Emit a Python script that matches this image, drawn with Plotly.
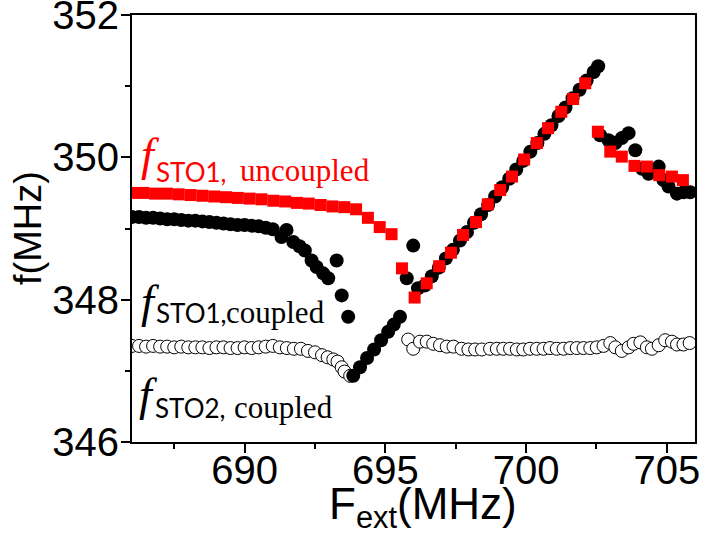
import plotly.graph_objects as go

# ---------------- data ----------------
# f_STO1, uncoupled (red squares)
unc_F = [686.0, 686.4, 686.82, 687.24, 687.66, 688.08, 688.5, 688.92, 689.34, 689.76,
         690.18, 690.6, 691.02, 691.44, 691.86, 692.28, 692.7, 693.12, 693.54, 693.96,
         694.38, 694.8, 695.22, 695.59, 696.04, 696.47, 696.91, 697.33, 697.76, 698.22,
         698.64, 699.08, 699.5, 699.93, 700.38, 700.78, 701.25, 701.67, 702.1, 702.55,
         702.99, 703.4, 703.85, 704.29, 704.73, 705.18, 705.57]
unc_f = [349.50, 349.50, 349.49, 349.49, 349.48, 349.47, 349.46, 349.45, 349.44, 349.43,
         349.42, 349.41, 349.39, 349.38, 349.36, 349.35, 349.33, 349.31, 349.30, 349.27,
         349.15, 349.02, 348.92, 348.44, 348.03, 348.23, 348.47, 348.66, 348.91, 349.09,
         349.34, 349.54, 349.73, 349.97, 350.20, 350.41, 350.64, 350.82, 351.04, 350.36,
         350.08, 350.01, 349.88, 349.87, 349.75, 349.73, 349.68]

# f_STO1, coupled (filled black circles)
c1_F = [686.0, 686.25, 686.5, 686.75, 687.0, 687.25, 687.5, 687.75, 688.0, 688.25,
        688.5, 688.75, 689.0, 689.25, 689.5, 689.75, 690.0, 690.25, 690.5, 690.75,
        691.0, 691.31, 691.49, 691.73, 691.95, 692.14, 692.38, 692.56, 692.79, 692.97,
        693.27, 693.45, 693.68, 693.86, 694.1, 694.35, 694.6, 694.85, 695.1, 695.3,
        695.52, 695.76, 695.99, 696.16, 696.4, 696.65, 696.9, 697.15, 697.4, 697.65,
        697.9, 698.15, 698.4, 698.65, 698.9, 699.15, 699.4, 699.65, 699.9, 700.15,
        700.4, 700.65, 700.9, 701.15, 701.4, 701.65, 701.9, 702.15, 702.4, 702.56,
        702.63, 702.93, 703.17, 703.4, 703.64, 703.88, 704.12, 704.35, 704.71, 704.88,
        705.06, 705.36, 705.59, 705.83]
c1_f = [349.16, 349.16, 349.15, 349.15, 349.14, 349.13, 349.13, 349.12, 349.11, 349.11,
        349.10, 349.09, 349.08, 349.07, 349.06, 349.05, 349.05, 349.04, 349.03, 349.01,
        348.99, 348.88, 348.98, 348.81, 348.75, 348.69, 348.55, 348.46, 348.37, 348.30,
        348.55, 348.06, 347.76, 346.93, 347.05, 347.18, 347.30, 347.43, 347.55, 347.65,
        347.76, 348.30, 348.76, 348.16, 348.20, 348.33, 348.45, 348.58, 348.70, 348.83,
        348.95, 349.08, 349.20, 349.33, 349.45, 349.58, 349.70, 349.83, 349.95, 350.08,
        350.20, 350.33, 350.45, 350.58, 350.70, 350.83, 350.95, 351.08, 351.20, 351.28,
        350.31, 350.24, 350.20, 350.27, 350.34, 350.10, 349.84, 349.77, 349.87, 349.68,
        349.59, 349.49, 349.51, 349.51]

# f_STO2, coupled (open circles)
c2_F = [686.0, 686.25, 686.5, 686.75, 687.0, 687.25, 687.5, 687.75, 688.0, 688.25,
        688.5, 688.75, 689.0, 689.25, 689.5, 689.75, 690.0, 690.25, 690.5, 690.75,
        691.0, 691.25, 691.5, 691.75, 692.0, 692.25, 692.5, 692.75, 692.95, 693.15,
        693.3, 693.45, 693.55, 693.75,
        695.81, 695.99, 696.23, 696.47, 696.7, 696.94, 697.18, 697.42, 697.71, 697.95,
        698.19, 698.43, 698.72, 698.96, 699.19, 699.43, 699.67, 699.9, 700.14, 700.38,
        700.62, 700.85, 701.09, 701.33, 701.57, 701.8, 702.04, 702.28, 702.51, 702.75,
        702.99, 703.17, 703.4, 703.64, 703.82, 704.06, 704.29, 704.47, 704.71, 704.94,
        705.18, 705.36, 705.59, 705.81]
c2_f = [347.35, 347.35, 347.34, 347.35, 347.34, 347.34, 347.33, 347.34, 347.33, 347.33,
        347.33, 347.32, 347.33, 347.33, 347.32, 347.32, 347.33, 347.32, 347.33, 347.34,
        347.35, 347.33, 347.32, 347.31, 347.31, 347.28, 347.26, 347.22, 347.19, 347.16,
        347.13, 347.05, 346.99, 346.93,
        347.44, 347.31, 347.41, 347.41, 347.38, 347.36, 347.34, 347.34, 347.31, 347.30,
        347.30, 347.30, 347.31, 347.31, 347.31, 347.31, 347.30, 347.30, 347.31, 347.31,
        347.31, 347.32, 347.31, 347.31, 347.32, 347.32, 347.32, 347.32, 347.33, 347.35,
        347.39, 347.33, 347.28, 347.33, 347.38, 347.40, 347.33, 347.31, 347.36, 347.43,
        347.41, 347.37, 347.37, 347.39]

x_ticks = [690, 695, 700, 705]
y_ticks = [346, 348, 350, 352]

# ---------------- figure ----------------
W, H = 703, 543
L, R, T, B = 132, 8, 15, 101
PW, PH = W - L - R, H - T - B

def px(x):
    return (x - L) / PW

def py(y):
    return (H - B - y) / PH

fig = go.Figure()
fig.add_trace(go.Scatter(x=c2_F, y=c2_f, mode="markers",
                         marker=dict(symbol="circle", size=13, color="white",
                                     line=dict(color="black", width=1))))
fig.add_trace(go.Scatter(x=c1_F, y=c1_f, mode="markers",
                         marker=dict(symbol="circle", size=14, color="black",
                                     line=dict(width=0))))
fig.add_trace(go.Scatter(x=unc_F, y=unc_f, mode="markers",
                         marker=dict(symbol="square", size=12, color="#ff0000",
                                     line=dict(width=0))))

axis_common = dict(showline=True, linecolor="black", linewidth=2, mirror=True,
                   ticks="outside", ticklen=9, tickwidth=2, tickcolor="black",
                   showgrid=False, zeroline=False, ticklabeloverflow="allow",
                   tickfont=dict(family="Liberation Sans, Arial", size=40, color="black"),
                   minor=dict(ticks="outside", ticklen=5, tickwidth=2, tickcolor="black",
                              showgrid=False))

fig.update_xaxes(range=[686, 706], tickvals=x_ticks, minor_dtick=2.5, minor_tick0=0,
                 ticklabelstandoff=-17, **axis_common)
fig.update_yaxes(range=[346, 352], tickvals=y_ticks, minor_dtick=1, minor_tick0=0,
                 ticklabelstandoff=-6, **axis_common)

serif = "Liberation Serif, Times New Roman, serif"
sans = "Lato, Noto Sans, sans-serif"
arial = "Liberation Sans, Arial, sans-serif"

def label(text, x, ybottom, family, size, color):
    fig.add_annotation(text=text, xref="paper", yref="paper", x=px(x), y=py(ybottom),
                       xanchor="left", yanchor="bottom", showarrow=False,
                       borderpad=0, borderwidth=0,
                       font=dict(family=family, size=size, color=color))

red = "#ff0000"
label("<i>f</i>", 141, 180, serif, 46, red)
label("STO1,", 156, 187.5, sans, 26, red)
label("uncoupled", 240, 188.4, serif, 31, red)

label("<i>f</i>", 141, 327, serif, 46, "black")
label("STO1,", 156, 329.3, sans, 26, "black")
label("coupled", 226, 330.2, serif, 31, "black")

label("<i>f</i>", 139, 420, serif, 46, "black")
label("STO2,", 155, 423.8, sans, 26, "black")
label("coupled", 234, 424.7, serif, 31, "black")

# axis titles
fig.add_annotation(text="F<sub>ext</sub>(MHz)", xref="paper", yref="paper",
                   x=px(423), y=py(479), xanchor="center", yanchor="top",
                   showarrow=False, borderpad=0, borderwidth=0,
                   font=dict(family=arial, size=44, color="black"))
fig.add_annotation(text="f(MHz)", xref="paper", yref="paper", textangle=-90,
                   x=px(28), y=py(228), xanchor="center", yanchor="middle",
                   showarrow=False, borderpad=0, borderwidth=0,
                   font=dict(family=arial, size=38, color="black"))

fig.update_layout(width=W, height=H, margin=dict(l=L, r=R, t=T, b=B, autoexpand=False),
                  plot_bgcolor="white", paper_bgcolor="white", showlegend=False)

fig.write_html("out.html", config={"displayModeBar": False},
               post_script="document.body.style.margin='0px';")
